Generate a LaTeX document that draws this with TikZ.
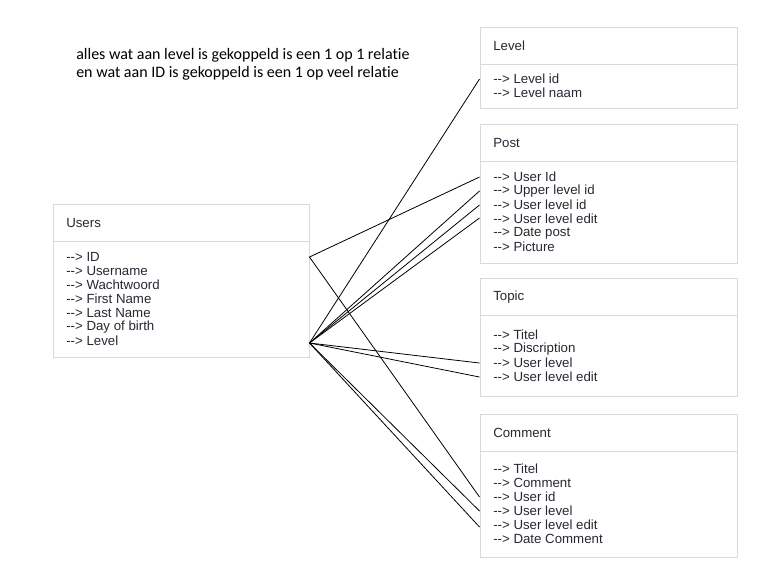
\documentclass[tikz,border=0pt]{standalone}
\usepackage{fontspec}
\setmainfont{Liberation Sans}
\newfontfamily\notefont{Carlito}[Ligatures=NoCommon]
\usetikzlibrary{fit}
\definecolor{boxgray}{RGB}{217,217,217}
\definecolor{txt}{RGB}{40,40,52}
\newcommand\ar{\mbox{-}\mbox{-}>}
\begin{document}
\begin{tikzpicture}[x=0.75pt,y=-0.75pt,
  box/.style={draw=boxgray, line width=0.75pt, inner sep=0},
  divider/.style={draw=boxgray, line width=0.75pt},
  item/.style={anchor=west, inner sep=0, font=\fontsize{9.95}{10.5}\selectfont, text=txt},
  note/.style={anchor=west, inner sep=0, align=left, font=\notefont\fontsize{12}{13.5}\selectfont, text=black},
  conn/.style={line width=0.6pt, black}]
\useasboundingbox[fill=white] (0,0) rectangle (762,587);

% note
\node[note] (note) at (76,64) {alles wat aan level is gekoppeld is een 1 op 1 relatie\\en wat aan ID is gekoppeld is een 1 op veel relatie};

% Users
\node[box, fit={(53,204) (309,357)}] (users) {};
\draw[divider] (53,241) -- (309,241);
\node[item] (uh) at (66,223) {Users};
\node[item] (u1) at (66,257) {\ar{} ID};
\node[item] (u2) at (66,271) {\ar{} Username};
\node[item] (u3) at (66,285) {\ar{} Wachtwoord};
\node[item] (u4) at (66,299) {\ar{} First Name};
\node[item] (u5) at (66,313) {\ar{} Last Name};
\node[item] (u6) at (66,327) {\ar{} Day of birth};
\node[item] (u7) at (66,341) {\ar{} Level};

% Level
\node[box, fit={(480,27) (737,108)}] (level) {};
\draw[divider] (480,64) -- (737,64);
\node[item] (lh) at (493,46) {Level};
\node[item] (l1) at (493,79) {\ar{} Level id};
\node[item] (l2) at (493,93) {\ar{} Level naam};

% Post
\node[box, fit={(480,124) (737,263)}] (post) {};
\draw[divider] (480,161) -- (737,161);
\node[item] (ph) at (493,143) {Post};
\node[item] (p1) at (493,177) {\ar{} User Id};
\node[item] (p2) at (493,191) {\ar{} Upper level id};
\node[item] (p3) at (493,205) {\ar{} User level id};
\node[item] (p4) at (493,219) {\ar{} User level edit};
\node[item] (p5) at (493,233) {\ar{} Date post};
\node[item] (p6) at (493,247) {\ar{} Picture};

% Topic
\node[box, fit={(480,278) (737,396)}] (topic) {};
\draw[divider] (480,315) -- (737,315);
\node[item] (th) at (493,297) {Topic};
\node[item] (t1) at (493,335) {\ar{} Titel};
\node[item] (t2) at (493,349) {\ar{} Discription};
\node[item] (t3) at (493,363) {\ar{} User level};
\node[item] (t4) at (493,377) {\ar{} User level edit};

% Comment
\node[box, fit={(480,414) (737,557)}] (comment) {};
\draw[divider] (480,451) -- (737,451);
\node[item] (ch) at (493,433) {Comment};
\node[item] (c1) at (493,469) {\ar{} Titel};
\node[item] (c2) at (493,483) {\ar{} Comment};
\node[item] (c3) at (493,497) {\ar{} User id};
\node[item] (c4) at (493,511) {\ar{} User level};
\node[item] (c5) at (493,525) {\ar{} User level edit};
\node[item] (c6) at (493,539) {\ar{} Date Comment};

% connector end points
\coordinate (uID) at ([yshift=0pt]users.east |- u1.west);
\coordinate (uLV) at ([yshift=-1.5pt]users.east |- u7.west);
\coordinate (eL1) at ([yshift=0pt]level.west |- l1.west);
\coordinate (eP1) at ([yshift=0pt]post.west |- p1.west);
\coordinate (eP2) at ([yshift=0pt]post.west |- p2.west);
\coordinate (eP3) at ([yshift=0pt]post.west |- p3.west);
\coordinate (eP4) at ([yshift=0.75pt]post.west |- p4.west);
\coordinate (eT3) at ([yshift=0pt]topic.west |- t3.west);
\coordinate (eT4) at ([yshift=0pt]topic.west |- t4.west);
\coordinate (eC3) at ([yshift=0pt]comment.west |- c3.west);
\coordinate (eC4) at ([yshift=0pt]comment.west |- c4.west);
\coordinate (eC5) at ([yshift=-1.5pt]comment.west |- c5.west);

% connectors from ID
\draw[conn] (uID) -- (eP1);
\draw[conn] (uID) -- (eC3);
% connectors from Level
\draw[conn] (uLV) -- (eL1);
\draw[conn] (uLV) -- (eP2);
\draw[conn] (uLV) -- (eP3);
\draw[conn] (uLV) -- (eP4);
\draw[conn] (uLV) -- (eT3);
\draw[conn] (uLV) -- (eT4);
\draw[conn] (uLV) -- (eC4);
\draw[conn] (uLV) -- (eC5);
\end{tikzpicture}
\end{document}
